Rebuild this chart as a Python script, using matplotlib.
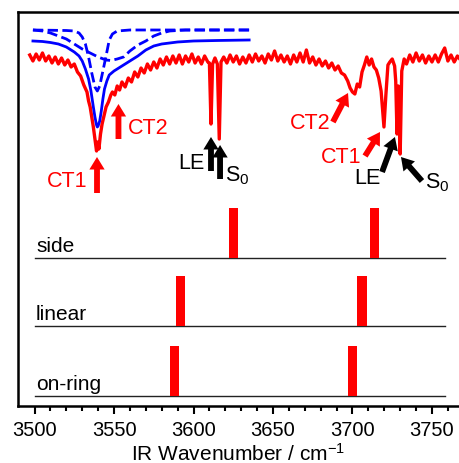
import matplotlib
matplotlib.use("Agg")
import matplotlib.pyplot as plt

plt.rcParams["font.family"] = ["Liberation Sans", "DejaVu Sans"]
plt.rcParams["mathtext.fontset"] = "custom"
plt.rcParams["mathtext.rm"] = "Liberation Sans"
plt.rcParams["mathtext.it"] = "Liberation Sans"

# measured IR spectrum (offset trace at the top)
spec_x = [3497, 3499, 3501, 3503, 3505, 3507, 3509, 3511, 3513, 3515, 3517, 3519,
          3521, 3523, 3525, 3527, 3529, 3531, 3533, 3534, 3535, 3536, 3537, 3538,
          3539, 3539.7, 3540.5, 3541.5, 3542.5, 3543.5, 3545, 3546.5, 3548, 3549,
          3550.5, 3552, 3553.5, 3555, 3557, 3559, 3561, 3563, 3565, 3567, 3569,
          3571, 3573, 3575, 3577, 3579, 3581, 3583, 3585, 3587, 3589, 3591, 3593,
          3595, 3597, 3599, 3601, 3603, 3605, 3607, 3609, 3610, 3611, 3612, 3613.5,
          3615, 3616.2, 3617.3, 3619, 3621, 3623, 3625, 3627, 3629, 3631, 3633,
          3635, 3637, 3639, 3641, 3643, 3645, 3647, 3649, 3651, 3653, 3655, 3657,
          3659, 3661, 3663, 3665, 3667, 3669, 3671, 3673, 3675, 3677, 3679, 3681,
          3683, 3685, 3687, 3689, 3691, 3693, 3695, 3697, 3698.5, 3700, 3701.5,
          3703, 3704.5, 3706, 3707.5, 3709, 3710.5, 3712, 3713.5, 3715, 3716.5,
          3718, 3719.8, 3721, 3722.3, 3723.5, 3725, 3726.5, 3727.2, 3728, 3728.8,
          3730, 3731, 3732.5, 3734, 3736, 3738, 3740, 3742, 3744, 3746, 3748, 3750,
          3752, 3754, 3756, 3758, 3760, 3762, 3764, 3766, 3768]
spec_y = [3.51, 3.45, 3.52, 3.46, 3.53, 3.45, 3.50, 3.43, 3.49, 3.42, 3.48, 3.41,
          3.46, 3.39, 3.42, 3.34, 3.30, 3.21, 3.14, 3.05, 2.99, 2.89, 2.79, 2.67,
          2.55, 2.64, 2.57, 2.72, 2.82, 2.89, 2.99, 3.04, 3.11, 3.14,
          3.11, 3.20, 3.16, 3.24, 3.19, 3.28, 3.24, 3.34, 3.29, 3.38, 3.33,
          3.42, 3.36, 3.44, 3.38, 3.47, 3.41, 3.49, 3.42, 3.50, 3.43, 3.51, 3.42,
          3.50, 3.44, 3.52, 3.43, 3.49, 3.42, 3.50, 3.44, 3.43, 2.82, 3.42, 3.48,
          3.42, 2.67, 3.44, 3.49, 3.43, 3.51, 3.44, 3.50, 3.42, 3.49, 3.43,
          3.51, 3.44, 3.52, 3.45, 3.50, 3.43, 3.52, 3.46, 3.55, 3.45, 3.51, 3.44,
          3.50, 3.42, 3.51, 3.44, 3.53, 3.44, 3.56, 3.43, 3.49, 3.41, 3.47, 3.40,
          3.45, 3.38, 3.43, 3.36, 3.40, 3.33, 3.31, 3.25, 3.18, 3.14, 3.12,
          3.22, 3.19, 3.34, 3.41, 3.49, 3.41, 3.47, 3.39, 3.36, 3.28,
          3.15, 2.79, 3.11, 3.41, 3.44, 3.47, 3.40, 3.25, 2.72, 3.20,
          2.52, 3.35, 3.47, 3.42, 3.51, 3.44, 3.53, 3.45, 3.51, 3.43, 3.50, 3.44,
          3.51, 3.44, 3.52, 3.58, 3.45, 3.51, 3.44, 3.50, 3.46]

# band fit: sum and two components
fit_x = [3499, 3505, 3510, 3515, 3520, 3525, 3528, 3530, 3532, 3534, 3535.5, 3537,
         3538, 3539, 3539.5, 3540, 3541, 3542, 3543, 3544, 3545.5, 3547, 3550,
         3555, 3560, 3565, 3570, 3575, 3580, 3590, 3600, 3615, 3635]
fit_sum = [3.65, 3.645, 3.635, 3.62, 3.59, 3.54, 3.50, 3.45, 3.37, 3.27, 3.15, 2.99,
           2.89, 2.81, 2.79, 2.80, 2.85, 2.95, 3.07, 3.17, 3.25, 3.31, 3.35,
           3.40, 3.45, 3.50, 3.56, 3.60, 3.62, 3.64, 3.65, 3.655, 3.66]
narrow_x = [3499, 3520, 3525, 3528, 3530, 3532, 3534, 3536, 3538, 3539.5, 3541,
            3543, 3545, 3547, 3549, 3552, 3560, 3635]
narrow_y = [3.76, 3.755, 3.75, 3.73, 3.69, 3.62, 3.49, 3.33, 3.19, 3.15, 3.20,
            3.35, 3.50, 3.66, 3.72, 3.75, 3.76, 3.76]
broad_x = [3499, 3505, 3510, 3515, 3520, 3525, 3530, 3535, 3540, 3545, 3548, 3552,
           3556, 3560, 3565, 3570, 3575, 3580, 3585, 3595, 3635]
broad_y = [3.76, 3.75, 3.73, 3.70, 3.67, 3.62, 3.57, 3.53, 3.49, 3.46, 3.455, 3.47,
           3.49, 3.55, 3.61, 3.65, 3.70, 3.73, 3.75, 3.76, 3.76]

# calculated stick spectra
isomers = ["side", "linear", "on-ring"]
stick_pos = [[3625, 3714], [3592, 3706], [3588, 3700]]
stick_int = [[1.0, 1.0], [1.0, 1.0], [1.0, 1.0]]
offsets = [1.48, 0.80, 0.10]

# band assignments: (label, colour, tip x, tip y, tail x, tail y, text x, text y)
labels = [
    ("CT1", "red", 3539.3, 2.49, 3539.3, 2.13, 3520.4, 2.26),
    ("CT2", "red", 3552.8, 3.02, 3552.8, 2.67, 3571.4, 2.79),
    ("LE", "black", 3611.0, 2.69, 3611.0, 2.35, 3598.4, 2.44),
    ("S$_0$", "black", 3616.7, 2.61, 3616.7, 2.27, 3627.4, 2.31),
    ("CT2", "red", 3697.2, 3.13, 3687.7, 2.84, 3673.3, 2.84),
    ("CT1", "red", 3717.3, 2.74, 3707.9, 2.50, 3692.8, 2.50),
    ("LE", "black", 3726.7, 2.69, 3718.6, 2.34, 3709.1, 2.29),
    ("S$_0$", "black", 3730.5, 2.49, 3743.7, 2.25, 3753.1, 2.24),
]

fig = plt.figure(figsize=(4.59, 4.64), dpi=100)
ax = fig.add_axes([0.0392, 0.1228, 0.9608, 0.8492])

ax.plot(spec_x, spec_y, color="#ff0000", lw=2.4, zorder=2)
ax.plot(fit_x, fit_sum, color="#0000ff", lw=2.0, zorder=3)
ax.plot(narrow_x, narrow_y, color="#0000ff", lw=2.0, ls="--", zorder=3)
ax.plot(broad_x, broad_y, color="#0000ff", lw=2.0, ls="--", zorder=3)

for name, pos, inten, off in zip(isomers, stick_pos, stick_int, offsets):
    ax.plot([3500, 3758], [off, off], color="#222222", lw=1.0, zorder=1)
    ax.bar(pos, [0.5 * v for v in inten], width=5.7, bottom=off, color="#ff0000", zorder=2)
    ax.text(3501, off + 0.07, name, fontsize=15, ha="left", va="baseline")

for text, col, tx, ty, sx, sy, lx, ly in labels:
    ax.annotate("", xy=(tx, ty), xytext=(sx, sy),
                arrowprops=dict(width=4.2, headwidth=11, headlength=9, shrink=0,
                                color=col, lw=0))
    ax.text(lx, ly, text, color=col, fontsize=15.5, ha="center", va="center")

ax.set_xlim(3489.6, 3767.0)
ax.set_ylim(0, 3.94)
ax.set_xticks(range(3500, 3751, 50))
ax.set_xticks(range(3500, 3761, 10), minor=True)
ax.tick_params(axis="x", which="major", direction="out", length=6, width=1.5,
               labelsize=14.5, pad=4)
ax.tick_params(axis="x", which="minor", direction="out", length=3.5, width=1.5)
ax.set_yticks([])
ax.spines["right"].set_visible(False)
for s in ["left", "top", "bottom"]:
    ax.spines[s].set_linewidth(1.8)
ax.set_xlabel("IR Wavenumber / cm$^{-1}$", fontsize=15, labelpad=2)

fig.savefig("out.png", dpi=100)
